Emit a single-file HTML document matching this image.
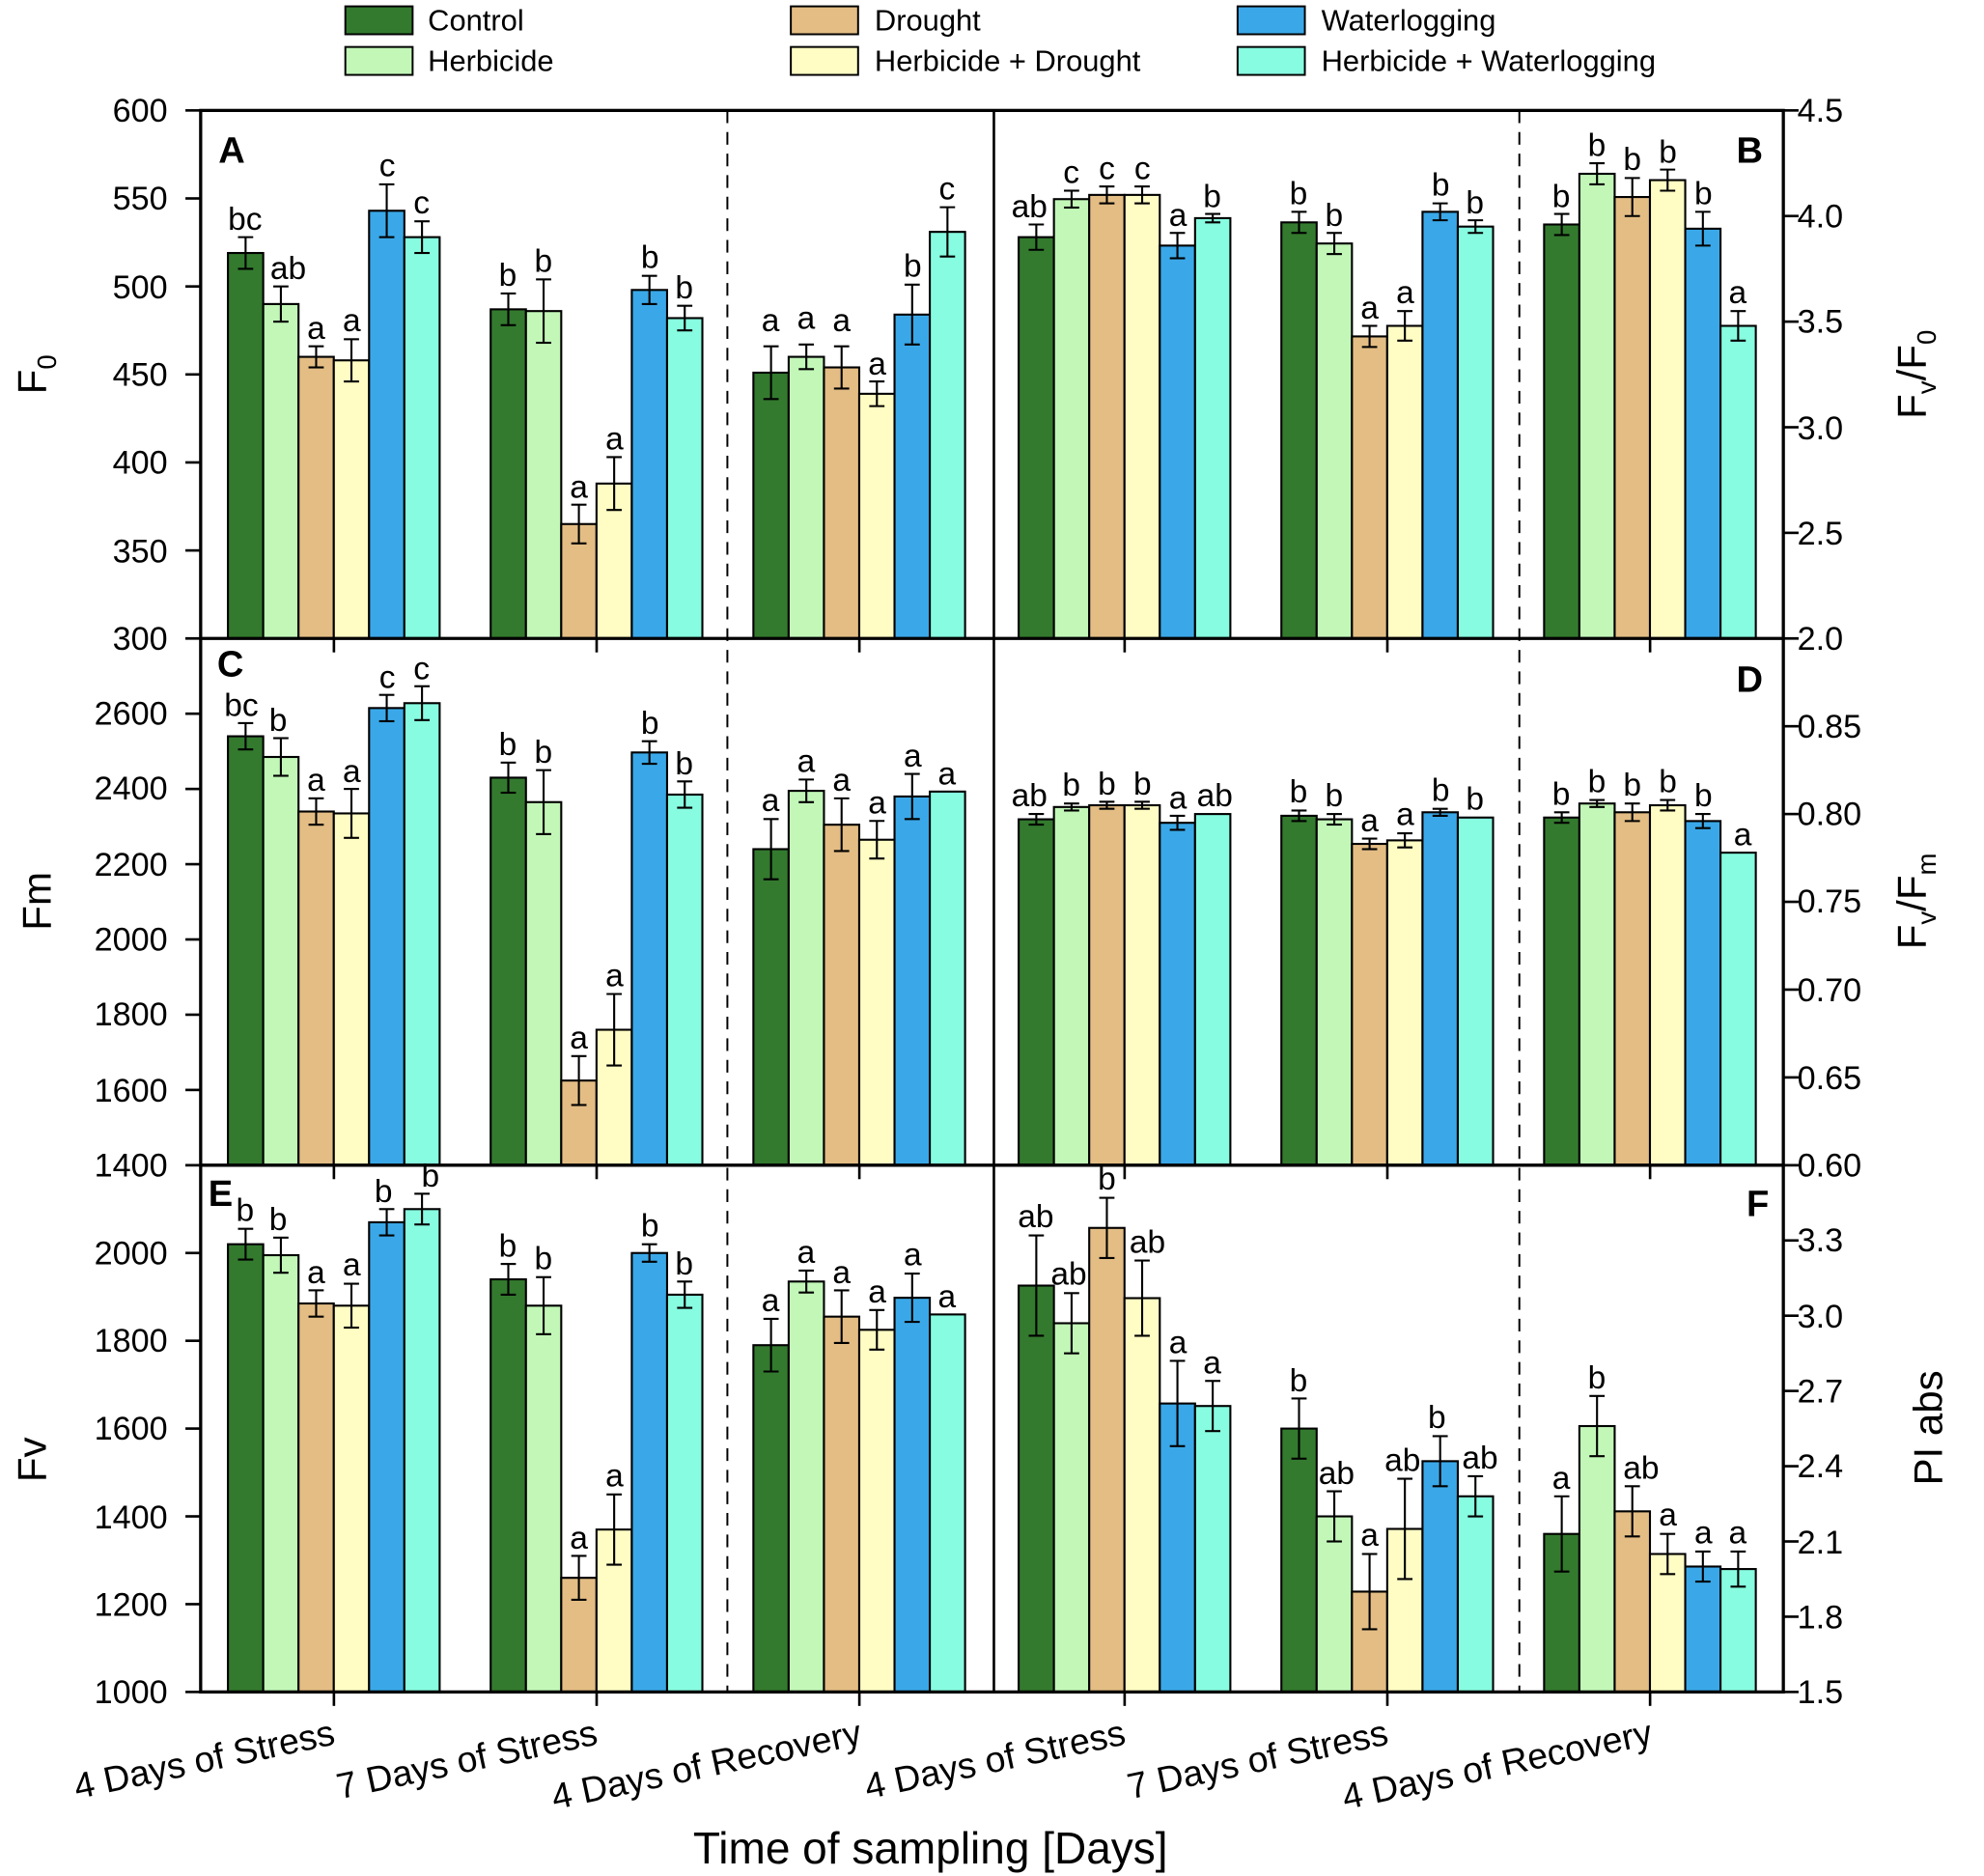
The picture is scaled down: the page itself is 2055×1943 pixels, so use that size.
<!DOCTYPE html>
<html><head><meta charset="utf-8"><style>
html,body{margin:0;padding:0;background:#fff;}
svg{display:block;font-family:"Liberation Sans",Arial,sans-serif;}
</style></head><body>
<svg id="s" width="2055" height="1943" viewBox="0 0 1563 1478" xmlns="http://www.w3.org/2000/svg">
<rect width="1563" height="1478" fill="#fff"/>
<g font-size="23.5" fill="#000">
<rect x="272" y="5" width="53" height="22" fill="#337a2e" stroke="#000" stroke-width="1.5"/><text x="337" y="24">Control</text>
<rect x="272" y="37" width="53" height="22" fill="#c2f7b8" stroke="#000" stroke-width="1.5"/><text x="337" y="56">Herbicide</text>
<rect x="623" y="5" width="53" height="22" fill="#e3bd84" stroke="#000" stroke-width="1.5"/><text x="689" y="24">Drought</text>
<rect x="623" y="37" width="53" height="22" fill="#fffcc4" stroke="#000" stroke-width="1.5"/><text x="689" y="56">Herbicide + Drought</text>
<rect x="975" y="5" width="53" height="22" fill="#3aa8e8" stroke="#000" stroke-width="1.5"/><text x="1041" y="24">Waterlogging</text>
<rect x="975" y="37" width="53" height="22" fill="#87fce0" stroke="#000" stroke-width="1.5"/><text x="1041" y="56">Herbicide + Waterlogging</text>
</g>
<g id="bars"></g>
<g font-size="25.5" text-anchor="middle">
<text x="193" y="181">bc</text><text x="227" y="220">ab</text><text x="249" y="267">a</text><text x="277" y="261">a</text><text x="305" y="139">c</text><text x="332" y="168">c</text>
<text x="400" y="225">b</text><text x="428" y="214">b</text><text x="456" y="392">a</text><text x="484" y="354">a</text><text x="512" y="211">b</text><text x="539" y="235">b</text>
<text x="607" y="261">a</text><text x="635" y="259">a</text><text x="663" y="261">a</text><text x="691" y="295">a</text><text x="719" y="218">b</text><text x="746" y="157">c</text>
<text x="811" y="171">ab</text><text x="844" y="144">c</text><text x="872" y="141">c</text><text x="900" y="141">c</text><text x="928" y="178">a</text><text x="955" y="163">b</text>
<text x="1023" y="161">b</text><text x="1051" y="178">b</text><text x="1079" y="251">a</text><text x="1107" y="239">a</text><text x="1135" y="154">b</text><text x="1162" y="168">b</text>
<text x="1230" y="163">b</text><text x="1258" y="123">b</text><text x="1286" y="134">b</text><text x="1314" y="128">b</text><text x="1342" y="161">b</text><text x="1369" y="239">a</text>

<text x="190" y="564">bc</text><text x="219" y="576">b</text><text x="249" y="623">a</text><text x="277" y="616">a</text><text x="305" y="542">c</text><text x="332" y="535">c</text>
<text x="400" y="595">b</text><text x="428" y="601">b</text><text x="456" y="826">a</text><text x="484" y="777">a</text><text x="512" y="578">b</text><text x="539" y="610">b</text>
<text x="607" y="639">a</text><text x="635" y="608">a</text><text x="663" y="623">a</text><text x="691" y="641">a</text><text x="719" y="604">a</text><text x="746" y="618">a</text>
<text x="811" y="635">ab</text><text x="844" y="627">b</text><text x="872" y="626">b</text><text x="900" y="626">b</text><text x="928" y="637">a</text><text x="957" y="635">ab</text>
<text x="1023" y="632">b</text><text x="1051" y="635">b</text><text x="1079" y="655">a</text><text x="1107" y="650">a</text><text x="1135" y="631">b</text><text x="1162" y="638">b</text>
<text x="1230" y="634">b</text><text x="1258" y="624">b</text><text x="1286" y="627">b</text><text x="1314" y="624">b</text><text x="1342" y="635">b</text><text x="1373" y="666">a</text>

<text x="193" y="962">b</text><text x="219" y="969">b</text><text x="249" y="1011">a</text><text x="277" y="1005">a</text><text x="302" y="947">b</text><text x="339" y="935">b</text>
<text x="400" y="990">b</text><text x="428" y="1000">b</text><text x="456" y="1220">a</text><text x="484" y="1171">a</text><text x="512" y="974">b</text><text x="539" y="1004">b</text>
<text x="607" y="1033">a</text><text x="635" y="995">a</text><text x="663" y="1011">a</text><text x="691" y="1026">a</text><text x="719" y="997">a</text><text x="746" y="1030">a</text>
<text x="816" y="967">ab</text><text x="842" y="1012">ab</text><text x="872" y="937">b</text><text x="904" y="987">ab</text><text x="928" y="1066">a</text><text x="955" y="1082">a</text>
<text x="1023" y="1096">b</text><text x="1053" y="1169">ab</text><text x="1079" y="1218">a</text><text x="1105" y="1159">ab</text><text x="1132" y="1125">b</text><text x="1166" y="1157">ab</text>
<text x="1230" y="1173">a</text><text x="1258" y="1094">b</text><text x="1293" y="1165">ab</text><text x="1314" y="1202">a</text><text x="1342" y="1216">a</text><text x="1369" y="1216">a</text>
</g>
<g font-size="26" text-anchor="end">
<text x="132" y="96">600</text><text x="132" y="165">550</text><text x="132" y="235">500</text><text x="132" y="304">450</text><text x="132" y="373">400</text><text x="132" y="443">350</text><text x="132" y="512">300</text>
<text x="132" y="571">2600</text><text x="132" y="630">2400</text><text x="132" y="690">2200</text><text x="132" y="749">2000</text><text x="132" y="808">1800</text><text x="132" y="868">1600</text><text x="132" y="927">1400</text>
<text x="132" y="996">2000</text><text x="132" y="1065">1800</text><text x="132" y="1134">1600</text><text x="132" y="1204">1400</text><text x="132" y="1273">1200</text><text x="132" y="1342">1000</text>
</g>
<g font-size="26" text-anchor="start">
<text x="1416" y="96">4.5</text><text x="1416" y="179">4.0</text><text x="1416" y="262">3.5</text><text x="1416" y="346">3.0</text><text x="1416" y="429">2.5</text><text x="1416" y="512">2.0</text>
<text x="1416" y="581">0.85</text><text x="1416" y="650">0.80</text><text x="1416" y="719">0.75</text><text x="1416" y="789">0.70</text><text x="1416" y="858">0.65</text><text x="1416" y="927">0.60</text>
<text x="1416" y="986">3.3</text><text x="1416" y="1046">3.0</text><text x="1416" y="1105">2.7</text><text x="1416" y="1164">2.4</text><text x="1416" y="1224">2.1</text><text x="1416" y="1283">1.8</text><text x="1416" y="1342">1.5</text>
</g>
<g font-size="29" font-weight="bold">
<text x="172" y="128">A</text><text x="1368" y="128">B</text><text x="171" y="533">C</text><text x="1368" y="545">D</text><text x="164" y="950">E</text><text x="1376" y="958">F</text>
</g>
<g font-size="32">
<text transform="translate(36,295) rotate(-90)" text-anchor="middle">F<tspan font-size="21" dy="8">0</tspan></text>
<text transform="translate(40,710) rotate(-90)" text-anchor="middle">Fm</text>
<text transform="translate(36,1150) rotate(-90)" text-anchor="middle">Fv</text>
<text transform="translate(1517,295) rotate(-90)" text-anchor="middle">F<tspan font-size="21" dy="8">v</tspan><tspan dy="-8">/F</tspan><tspan font-size="21" dy="8">0</tspan></text>
<text transform="translate(1517,710) rotate(-90)" text-anchor="middle">F<tspan font-size="21" dy="8">v</tspan><tspan dy="-8">/F</tspan><tspan font-size="21" dy="8">m</tspan></text>
<text transform="translate(1530,1125) rotate(-90)" text-anchor="middle">PI abs</text>
</g>
<g font-size="28.5" text-anchor="end">
<text transform="translate(265,1374) rotate(-12)">4 Days of Stress</text>
<text transform="translate(472,1374) rotate(-12)">7 Days of Stress</text>
<text transform="translate(680,1374) rotate(-12)">4 Days of Recovery</text>
<text transform="translate(888,1374) rotate(-12)">4 Days of Stress</text>
<text transform="translate(1095,1374) rotate(-12)">7 Days of Stress</text>
<text transform="translate(1303,1374) rotate(-12)">4 Days of Recovery</text>
</g>
<text x="733" y="1468" font-size="35" text-anchor="middle">Time of sampling [Days]</text>
</svg>
<script>
var NS="http://www.w3.org/2000/svg",g=document.getElementById("bars");
function el(t,a){var e=document.createElementNS(NS,t);for(var k in a)e.setAttribute(k,a[k]);g.appendChild(e);return e;}
var cols=["#337a2e","#c2f7b8","#e3bd84","#fffcc4","#3aa8e8","#87fce0"];
var centers=[263,470,677,886,1093,1300];
var P={A:[87,503,300,600],B:[87,503,2,4.5],C:[503,918,1400,2800],D:[503,918,0.6,0.9],E:[918,1333,1000,2200],F:[918,1333,1.5,3.6]};
var D={
A:[[[519,9],[490,10],[460,6],[458,12],[543,15],[528,9]],
[[487,9],[486,18],[365,11],[388,15],[498,8],[482,7]],
[[451,15],[460,7],[454,12],[439,7],[484,17],[531,14]]],
B:[[[3.90,0.06],[4.08,0.04],[4.10,0.04],[4.10,0.04],[3.86,0.06],[3.99,0.02]],
[[3.97,0.05],[3.87,0.05],[3.43,0.05],[3.48,0.07],[4.02,0.04],[3.95,0.03]],
[[3.96,0.05],[4.20,0.05],[4.09,0.09],[4.17,0.05],[3.94,0.08],[3.48,0.07]]],
C:[[[2540,35],[2485,50],[2340,35],[2335,65],[2615,35],[2628,45]],
[[2430,40],[2365,85],[1625,65],[1760,95],[2497,30],[2385,35]],
[[2240,80],[2395,30],[2305,70],[2265,50],[2380,60],[2393,0]]],
D:[[[0.797,0.003],[0.804,0.002],[0.805,0.002],[0.805,0.002],[0.795,0.004],[0.800,0]],
[[0.799,0.003],[0.797,0.003],[0.783,0.003],[0.785,0.004],[0.801,0.002],[0.798,0]],
[[0.798,0.003],[0.806,0.002],[0.801,0.005],[0.805,0.003],[0.796,0.004],[0.778,0]]],
E:[[[2020,35],[1995,40],[1885,30],[1880,50],[2070,30],[2100,35]],
[[1940,35],[1880,65],[1260,50],[1370,80],[2000,20],[1905,30]],
[[1790,60],[1935,25],[1855,60],[1825,45],[1898,55],[1860,0]]],
F:[[[3.12,0.2],[2.97,0.12],[3.35,0.12],[3.07,0.15],[2.65,0.17],[2.64,0.1]],
[[2.55,0.12],[2.2,0.1],[1.9,0.15],[2.15,0.2],[2.42,0.1],[2.28,0.08]],
[[2.13,0.15],[2.56,0.12],[2.22,0.1],[2.05,0.08],[2.0,0.06],[1.99,0.07]]]};
var side={A:0,C:0,E:0,B:3,D:3,F:3};
Object.keys(D).forEach(function(k){var p=P[k];var Y=function(v){return p[1]-(v-p[2])*(p[1]-p[0])/(p[3]-p[2]);};
 for(var gi=0;gi<3;gi++){var cx=centers[gi+side[k]],x0=cx-83.5;
  for(var b=0;b<6;b++){var d=D[k][gi][b],x=x0+b*27.8,yt=Y(d[0]);
   el("rect",{x:x,y:yt,width:27.8,height:p[1]-yt,fill:cols[b],stroke:"#000","stroke-width":1.6});
   var m=x+13.9;
   if(d[1]>0){var y1=Y(d[0]+d[1]),y2=Y(d[0]-d[1]);
    el("line",{x1:m,y1:y1,x2:m,y2:y2,stroke:"#000","stroke-width":1.6});
    el("line",{x1:m-6,y1:y1,x2:m+6,y2:y1,stroke:"#000","stroke-width":1.6});
    el("line",{x1:m-6,y1:y2,x2:m+6,y2:y2,stroke:"#000","stroke-width":1.6});}
  }}});
el("rect",{x:158,y:87,width:1247,height:1246,fill:"none",stroke:"#000","stroke-width":2.5});
[503,918].forEach(function(y){el("line",{x1:158,y1:y,x2:1405,y2:y,stroke:"#000","stroke-width":2.5});});
el("line",{x1:783,y1:87,x2:783,y2:1333,stroke:"#000","stroke-width":2});
[573,1197].forEach(function(x){el("line",{x1:x,y1:87,x2:x,y2:1333,stroke:"#000","stroke-width":1.5,"stroke-dasharray":"10,7"});});
[503,918,1333].forEach(function(y){centers.forEach(function(c){el("line",{x1:c,y1:y,x2:c,y2:y+11,stroke:"#000","stroke-width":2});});});
function ticks(top,bot,n,xs){for(var i=0;i<=n;i++){var y=bot-(bot-top)*i/n;el("line",{x1:xs[0],y1:y,x2:xs[1],y2:y,stroke:"#000","stroke-width":2});}}
ticks(87,503,6,[146,158]);ticks(503,918,7,[146,158]);ticks(918,1333,6,[146,158]);
ticks(87,503,5,[1405,1417]);ticks(503,918,6,[1405,1417]);ticks(918,1333,7,[1405,1417]);
</script>
</body></html>
